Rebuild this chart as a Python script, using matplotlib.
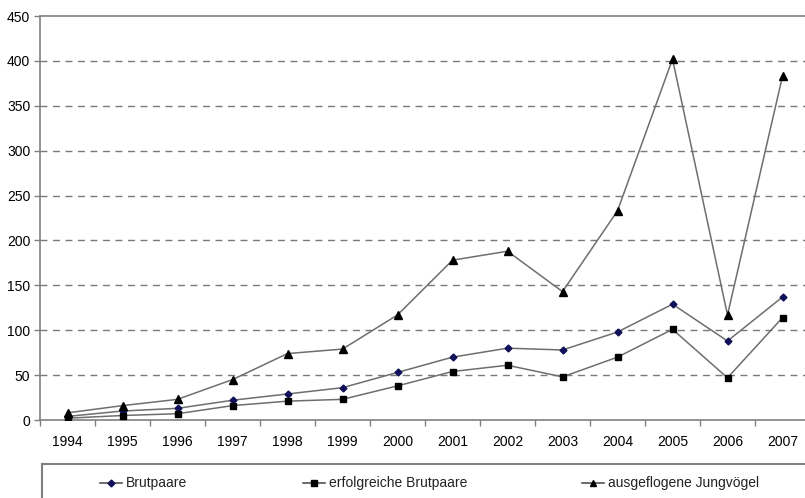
import matplotlib.pyplot as plt
import numpy as np
from matplotlib.lines import Line2D
from matplotlib.patches import Rectangle

plt.rcParams['font.family'] = ['Liberation Sans', 'DejaVu Sans']

# Data
years = ['1994', '1995', '1996', '1997', '1998', '1999', '2000',
         '2001', '2002', '2003', '2004', '2005', '2006', '2007']
brutpaare = [4, 10, 13, 22, 29, 36, 53, 70, 80, 78, 98, 129, 88, 137]
erfolgreiche = [2, 5, 7, 16, 21, 23, 38, 54, 61, 48, 70, 101, 47, 114]
jungvoegel = [8, 16, 23, 45, 74, 79, 117, 178, 188, 143, 233, 402, 117, 383]
labels = ['Brutpaare', 'erfolgreiche Brutpaare', 'ausgeflogene Jungvögel']

W, H = 805, 498
fig = plt.figure(figsize=(W / 100, H / 100), dpi=100)
# plot area runs past the right edge of the picture (cropped original)
ax = fig.add_axes([40 / W, (H - 420) / H, 770 / W, 404 / H])

x = np.arange(len(years))
line_col = '#6e6e6e'
ax.plot(x, brutpaare, color=line_col, lw=1.1, marker='D', ms=3.5,
        mfc='#10105a', mec='#10105a', zorder=3)
ax.plot(x, erfolgreiche, color=line_col, lw=1.1, marker='s', ms=5,
        mfc='black', mec='black', zorder=3)
ax.plot(x, jungvoegel, color=line_col, lw=1.1, marker='^', ms=5.5,
        mfc='black', mec='black', zorder=3)

ax.set_xlim(-0.5, len(years) - 0.5)
ax.set_ylim(0, 450)
ax.set_yticks(np.arange(0, 451, 50))

# category ticks sit between the years, labels centred on the years
ax.set_xticks(np.arange(-0.5, len(years), 1.0))
ax.set_xticklabels([])
ax.set_xticks(x, minor=True)
ax.set_xticklabels(years, minor=True)
ax.tick_params(axis='x', which='minor', length=0, pad=11, labelsize=10)
ax.tick_params(axis='x', which='major', length=4, width=1, color='#808080')
ax.tick_params(axis='y', length=4, width=1, color='#808080', pad=3,
               labelsize=10)

for v in np.arange(50, 450, 50):
    ax.axhline(v, color='#7a7a7a', lw=1, ls=(0, (5, 4)), zorder=1)

for s in ax.spines.values():
    s.set_color('#808080')
    s.set_linewidth(1.2)

# legend box (cut off at the bottom and right like the original)
fig.add_artist(Rectangle((42 / W, -0.1), 1.0, (H - 464) / H + 0.1,
                         transform=fig.transFigure, fill=False,
                         edgecolor='#808080', lw=1.5))
ly = 1 - 483 / H
entries = [
    (100, 'D', 3.5, '#10105a', labels[0]),
    (303, 's', 4.5, 'black', labels[1]),
    (582, '^', 5, 'black', labels[2]),
]
for px, mk, ms, mc, txt in entries:
    fig.add_artist(Line2D([px / W, (px + 11) / W, (px + 22) / W], [ly] * 3,
                          transform=fig.transFigure, color='#444444', lw=1.1,
                          marker=mk, ms=ms, mfc=mc, mec=mc, markevery=[1]))
    fig.text((px + 26) / W, ly, txt, fontsize=10, va='center', ha='left',
             color='#222222')

fig.savefig('out.png', dpi=100)
